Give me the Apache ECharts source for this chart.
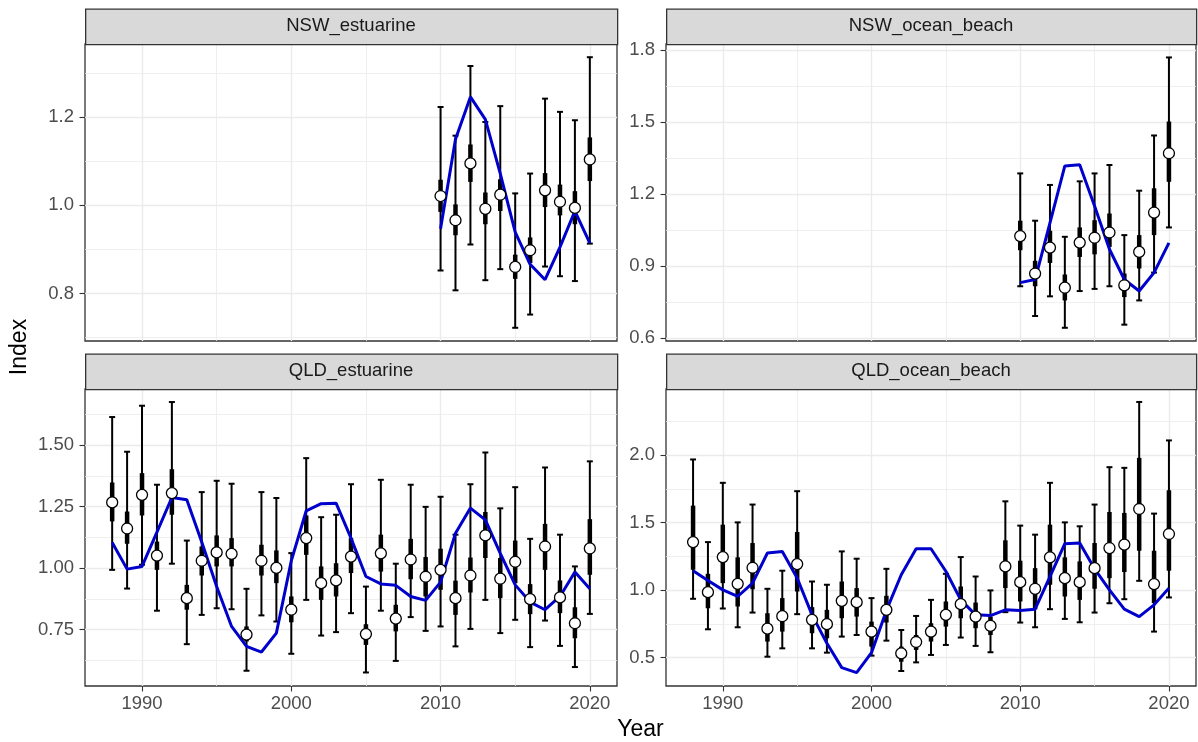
<!DOCTYPE html>
<html><head><meta charset="utf-8">
<script src="https://cdn.jsdelivr.net/npm/echarts@6/dist/echarts.min.js"></script>
<style>html,body{margin:0;padding:0;background:#fff}#c{width:1198px;height:742px}</style>
</head><body><div id="c"></div>
<script>
// ---------- data ----------
const panelNames = ['NSW_estuarine', 'NSW_ocean_beach', 'QLD_estuarine', 'QLD_ocean_beach'];

const nswYears = [2010, 2011, 2012, 2013, 2014, 2015, 2016, 2017, 2018, 2019, 2020];
const qldYears = [1988, 1989, 1990, 1991, 1992, 1993, 1994, 1995, 1996, 1997, 1998,
  1999, 2000, 2001, 2002, 2003, 2004, 2005, 2006, 2007, 2008, 2009, 2010,
  2011, 2012, 2013, 2014, 2015, 2016, 2017, 2018, 2019, 2020];

// NSW_estuarine
const nswEstMean = [1.021, 0.966, 1.095, 0.992, 1.024, 0.860, 0.898, 1.034, 1.008, 0.994, 1.104];
const nswEstLo95 = [0.852, 0.807, 0.911, 0.830, 0.855, 0.722, 0.752, 0.861, 0.839, 0.828, 0.913];
const nswEstHi95 = [1.223, 1.158, 1.316, 1.189, 1.225, 1.027, 1.072, 1.242, 1.212, 1.193, 1.336];
const nswEstLo50 = [0.985, 0.932, 1.053, 0.957, 0.987, 0.833, 0.869, 0.996, 0.977, 0.957, 1.055];
const nswEstHi50 = [1.058, 1.002, 1.138, 1.029, 1.059, 0.888, 0.927, 1.073, 1.047, 1.032, 1.154];
const nswEstFit  = [0.947, 1.150, 1.246, 1.195, 1.072, 0.939, 0.866, 0.831, 0.905, 0.987, 0.914];

// NSW_ocean_beach
const nswOceMean = [1.025, 0.869, 0.977, 0.810, 0.998, 1.018, 1.040, 0.820, 0.959, 1.123, 1.370];
const nswOceLo95 = [0.816, 0.692, 0.774, 0.643, 0.796, 0.805, 0.816, 0.656, 0.757, 0.873, 1.061];
const nswOceHi95 = [1.286, 1.089, 1.238, 1.022, 1.253, 1.286, 1.321, 1.029, 1.214, 1.444, 1.769];
const nswOceLo50 = [0.966, 0.816, 0.913, 0.757, 0.938, 0.949, 0.980, 0.771, 0.890, 1.029, 1.251];
const nswOceHi50 = [1.089, 0.922, 1.047, 0.865, 1.061, 1.091, 1.119, 0.869, 1.029, 1.224, 1.502];
const nswOceFit  = [0.831, 0.844, 1.080, 1.317, 1.322, 1.150, 0.970, 0.844, 0.796, 0.873, 0.997];

// QLD_estuarine
const qldEstMean = [1.267, 1.161, 1.298, 1.051, 1.305, 0.878, 1.030, 1.064, 1.058, 0.730, 1.030,
  1.001, 0.831, 1.122, 0.939, 0.950, 1.047, 0.732, 1.060, 0.795, 1.035, 0.965, 0.993,
  0.878, 0.970, 1.133, 0.957, 1.026, 0.874, 1.088, 0.881, 0.776, 1.080];
const qldEstLo95 = [0.993, 0.917, 1.014, 0.827, 1.018, 0.691, 0.810, 0.837, 0.833, 0.583, 0.808,
  0.783, 0.652, 0.871, 0.726, 0.740, 0.817, 0.576, 0.827, 0.623, 0.801, 0.745, 0.763,
  0.682, 0.753, 0.871, 0.736, 0.790, 0.679, 0.787, 0.684, 0.598, 0.814];
const qldEstHi95 = [1.614, 1.473, 1.660, 1.339, 1.675, 1.112, 1.309, 1.355, 1.343, 0.916, 1.309,
  1.285, 1.061, 1.447, 1.207, 1.217, 1.341, 0.925, 1.359, 1.018, 1.339, 1.249, 1.290,
  1.136, 1.341, 1.470, 1.243, 1.329, 1.119, 1.409, 1.136, 1.007, 1.434];
const qldEstLo50 = [1.190, 1.099, 1.214, 0.993, 1.217, 0.831, 0.970, 1.007, 1.007, 0.702, 0.970,
  0.939, 0.780, 1.054, 0.871, 0.885, 0.980, 0.688, 0.986, 0.743, 0.955, 0.885, 0.912,
  0.810, 0.901, 1.041, 0.878, 0.939, 0.813, 0.993, 0.817, 0.715, 0.973];
const qldEstHi50 = [1.348, 1.230, 1.386, 1.108, 1.402, 0.932, 1.088, 1.133, 1.122, 0.763, 1.095,
  1.072, 0.885, 1.214, 1.007, 1.020, 1.122, 0.772, 1.136, 0.851, 1.119, 1.045, 1.079,
  0.949, 1.043, 1.228, 1.041, 1.112, 0.935, 1.180, 0.950, 0.841, 1.199];
const qldEstFit  = [1.104, 0.996, 1.007, 1.146, 1.287, 1.278, 1.106, 0.925, 0.763, 0.682, 0.659,
  0.736, 1.030, 1.233, 1.262, 1.264, 1.122, 0.966, 0.936, 0.930, 0.885, 0.869, 0.943,
  1.142, 1.244, 1.196, 1.060, 0.932, 0.862, 0.831, 0.885, 0.984, 0.916];

// QLD_ocean_beach
const qldOceMean = [1.356, 0.985, 1.245, 1.047, 1.166, 0.715, 0.807, 1.193, 0.780, 0.748, 0.921,
  0.911, 0.693, 0.854, 0.532, 0.616, 0.693, 0.817, 0.896, 0.804, 0.735, 1.176, 1.059,
  1.010, 1.243, 1.089, 1.059, 1.163, 1.312, 1.337, 1.601, 1.045, 1.416];
const qldOceLo95 = [0.936, 0.710, 0.864, 0.725, 0.834, 0.507, 0.569, 0.822, 0.569, 0.537, 0.656,
  0.668, 0.515, 0.626, 0.401, 0.465, 0.520, 0.594, 0.649, 0.587, 0.540, 0.837, 0.760,
  0.725, 0.859, 0.787, 0.762, 0.834, 0.903, 0.933, 1.069, 0.693, 0.946];
const qldOceHi95 = [1.968, 1.356, 1.795, 1.502, 1.634, 1.010, 1.144, 1.733, 1.064, 1.040, 1.287,
  1.233, 0.941, 1.158, 0.705, 0.809, 0.928, 1.121, 1.245, 1.101, 0.998, 1.658, 1.478,
  1.411, 1.795, 1.502, 1.473, 1.634, 1.911, 1.906, 2.394, 1.567, 2.109];
const qldOceLo50 = [1.151, 0.866, 1.052, 0.879, 1.007, 0.619, 0.693, 0.990, 0.681, 0.644, 0.792,
  0.804, 0.582, 0.760, 0.470, 0.557, 0.619, 0.730, 0.792, 0.718, 0.668, 1.015, 0.916,
  0.859, 1.040, 0.953, 0.928, 1.010, 1.089, 1.134, 1.292, 0.903, 1.144];
const qldOceHi50 = [1.626, 1.121, 1.485, 1.243, 1.349, 0.829, 0.941, 1.431, 0.874, 0.854, 1.064,
  1.015, 0.767, 0.958, 0.582, 0.668, 0.755, 0.916, 1.027, 0.908, 0.804, 1.369, 1.218,
  1.163, 1.485, 1.243, 1.213, 1.349, 1.579, 1.572, 1.980, 1.292, 1.740];
const qldOceFit  = [1.144, 1.072, 1.002, 0.953, 1.052, 1.275, 1.287, 1.090, 0.817, 0.606, 0.426,
  0.389, 0.537, 0.850, 1.114, 1.307, 1.307, 1.140, 0.928, 0.817, 0.812, 0.854, 0.849,
  0.859, 1.100, 1.344, 1.349, 1.158, 1.002, 0.859, 0.804, 0.891, 1.015];

// axis ticks
const xTicks = [1990, 2000, 2010, 2020];
const yTicksNswEst = [0.8, 1.0, 1.2];
const yTicksNswOce = [0.6, 0.9, 1.2, 1.5, 1.8];
const yTicksQldEst = [0.75, 1.00, 1.25, 1.50];
const yTicksQldOce = [0.5, 1.0, 1.5, 2.0];

// ---------- layout / style ----------
const FONT = '"Liberation Sans", Arial, Helvetica, sans-serif';
const TICK_FS = 18.5;
const GRIDS = [
  {left: 85, top: 44, width: 532, height: 297},
  {left: 666, top: 44, width: 530, height: 297},
  {left: 85, top: 389, width: 532, height: 297},
  {left: 666, top: 389, width: 530, height: 297}
];
const STRIP_H = 35.5;
const X_MIN = 1986.18, X_MAX = 2021.82;
const Y_CFG = [
  {min: 0.692, max: 1.366, interval: 0.2, ticks: yTicksNswEst, dec: 1},
  {min: 0.588, max: 1.825, interval: 0.3, ticks: yTicksNswOce, dec: 1},
  {min: 0.521, max: 1.728, interval: 0.25, ticks: yTicksQldEst, dec: 2},
  {min: 0.290, max: 2.490, interval: 0.5, ticks: yTicksQldOce, dec: 1}
];
const CAP_HALF = 0.2;

const panels = [
  {years: nswYears, mean: nswEstMean, lo95: nswEstLo95, hi95: nswEstHi95, lo50: nswEstLo50, hi50: nswEstHi50, fit: nswEstFit},
  {years: nswYears, mean: nswOceMean, lo95: nswOceLo95, hi95: nswOceHi95, lo50: nswOceLo50, hi50: nswOceHi50, fit: nswOceFit},
  {years: qldYears, mean: qldEstMean, lo95: qldEstLo95, hi95: qldEstHi95, lo50: qldEstLo50, hi50: qldEstHi50, fit: qldEstFit},
  {years: qldYears, mean: qldOceMean, lo95: qldOceLo95, hi95: qldOceHi95, lo50: qldOceLo50, hi50: qldOceHi50, fit: qldOceFit}
];

function errRender(params, api) {
  const x = api.value(0);
  const pLo = api.coord([x, api.value(1)]);
  const pHi = api.coord([x, api.value(2)]);
  const pLo50 = api.coord([x, api.value(3)]);
  const pHi50 = api.coord([x, api.value(4)]);
  const cl = api.coord([x - CAP_HALF, api.value(1)])[0];
  const cr = api.coord([x + CAP_HALF, api.value(1)])[0];
  const thin = {stroke: '#000', lineWidth: 2};
  return {
    type: 'group',
    children: [
      {type: 'line', shape: {x1: pLo[0], y1: pLo[1], x2: pHi[0], y2: pHi[1]}, style: thin},
      {type: 'line', shape: {x1: cl, y1: pLo[1], x2: cr, y2: pLo[1]}, style: thin},
      {type: 'line', shape: {x1: cl, y1: pHi[1], x2: cr, y2: pHi[1]}, style: thin},
      {type: 'line', shape: {x1: pLo50[0], y1: pLo50[1], x2: pHi50[0], y2: pHi50[1]},
        style: {stroke: '#000', lineWidth: 4.5}}
    ]
  };
}

const grid = [], xAxis = [], yAxis = [], series = [], graphic = [];
GRIDS.forEach((g, i) => {
  grid.push({left: g.left, top: g.top, width: g.width, height: g.height, show: true,
    borderColor: '#333333', borderWidth: 1.3, backgroundColor: 'transparent', containLabel: false});
  const bottom = i >= 2;
  xAxis.push({
    gridIndex: i, type: 'value', min: X_MIN, max: X_MAX, minInterval: 10, maxInterval: 10,
    axisLine: {show: false},
    axisTick: {show: bottom, length: 5.5, customValues: xTicks, lineStyle: {color: '#333333', width: 1.1}},
    axisLabel: {show: bottom, customValues: xTicks, color: '#4D4D4D', fontSize: TICK_FS, fontFamily: FONT, margin: 8,
      formatter: v => String(Math.round(v))},
    splitLine: {show: true, lineStyle: {color: '#EBEBEB', width: 1.4}},
    minorTick: {show: false, splitNumber: 2},
    minorSplitLine: {show: true, lineStyle: {color: '#EBEBEB', width: 0.8}}
  });
  const yc = Y_CFG[i];
  yAxis.push({
    gridIndex: i, type: 'value', min: yc.min, max: yc.max, minInterval: yc.interval, maxInterval: yc.interval,
    axisLine: {show: false},
    axisTick: {show: true, length: 5.5, customValues: yc.ticks, lineStyle: {color: '#333333', width: 1.1}},
    axisLabel: {show: true, customValues: yc.ticks, color: '#4D4D4D', fontSize: TICK_FS, fontFamily: FONT, margin: 11,
      formatter: v => v.toFixed(yc.dec)},
    splitLine: {show: true, lineStyle: {color: '#EBEBEB', width: 1.4}},
    minorTick: {show: false, splitNumber: 2},
    minorSplitLine: {show: true, lineStyle: {color: '#EBEBEB', width: 0.8}}
  });
  const p = panels[i];
  series.push({
    type: 'custom', xAxisIndex: i, yAxisIndex: i, renderItem: errRender, z: 2, silent: true,
    encode: {x: 0, y: [1, 2, 3, 4]},
    data: p.years.map((yr, k) => [yr, p.lo95[k], p.hi95[k], p.lo50[k], p.hi50[k]])
  });
  series.push({
    type: 'line', xAxisIndex: i, yAxisIndex: i, z: 3, showSymbol: false, silent: true,
    lineStyle: {color: '#0000CD', width: 3}, itemStyle: {color: '#0000CD'},
    data: p.years.map((yr, k) => [yr, p.fit[k]])
  });
  series.push({
    type: 'scatter', xAxisIndex: i, yAxisIndex: i, z: 4, symbol: 'circle', symbolSize: 11, silent: true,
    itemStyle: {color: '#FFFFFF', borderColor: '#000000', borderWidth: 1.3, opacity: 1},
    data: p.years.map((yr, k) => [yr, p.mean[k]])
  });
  // facet strip
  const stripTop = g.top - STRIP_H;
  graphic.push({
    type: 'rect', left: g.left, top: stripTop, z: 10,
    shape: {x: 0, y: 0, width: g.width, height: STRIP_H},
    style: {fill: '#D9D9D9', stroke: '#333333', lineWidth: 1.3}
  });
  graphic.push({
    type: 'text', x: g.left + g.width / 2, y: stripTop + STRIP_H / 2, z: 11,
    style: {text: panelNames[i], fill: '#1A1A1A', font: TICK_FS + 'px ' + FONT,
      textAlign: 'center', textVerticalAlign: 'middle'}
  });
});

graphic.push({
  type: 'text', x: 640.5, y: 718, z: 11,
  style: {text: 'Year', fill: '#000000', font: '23px ' + FONT, textAlign: 'center', textVerticalAlign: 'top'}
});
graphic.push({
  type: 'text', x: 20, y: 347, rotation: Math.PI / 2, z: 11,
  style: {text: 'Index', fill: '#000000', font: '23px ' + FONT, textAlign: 'center', textVerticalAlign: 'middle'}
});

const chart = echarts.init(document.getElementById('c'), null, {renderer: 'canvas'});
chart.setOption({
  animation: false,
  backgroundColor: '#FFFFFF',
  grid, xAxis, yAxis, series, graphic
});
</script>
</body></html>
